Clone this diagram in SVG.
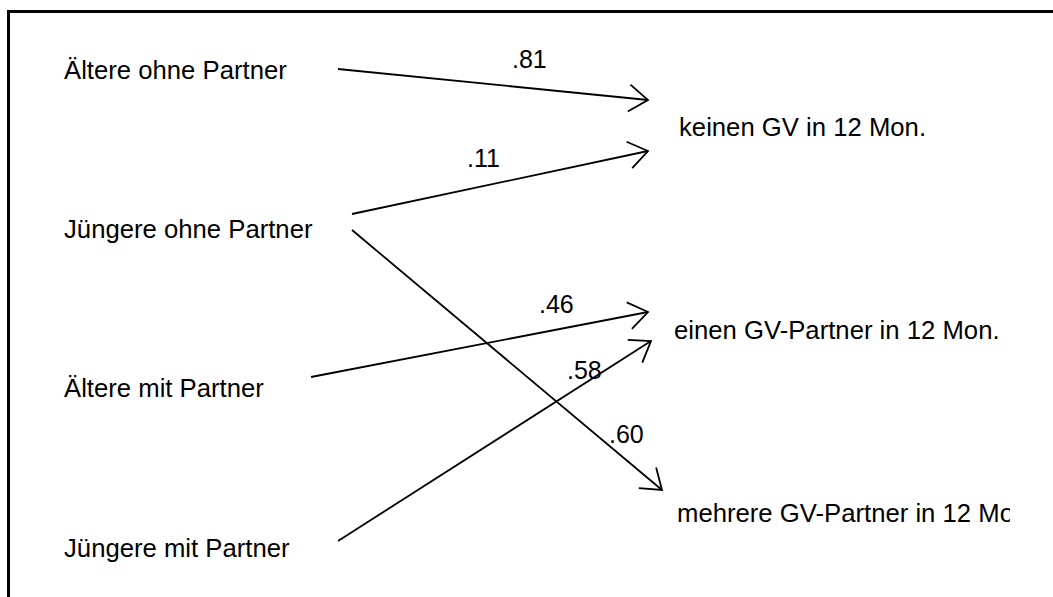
<svg xmlns="http://www.w3.org/2000/svg" width="1053" height="597" viewBox="0 0 1053 597">
<style>
.t{font-family:"Liberation Sans",Arial,sans-serif;font-size:25.7px;fill:#000}
.l{font-family:"Liberation Sans",Arial,sans-serif;font-size:25px;fill:#000}
.c{stroke:#000;stroke-width:1.8;fill:none;marker-end:url(#ah)}
</style>
<defs>
<marker id="ah" markerUnits="userSpaceOnUse" markerWidth="40" markerHeight="40" refX="0" refY="0" viewBox="-30 -20 40 40" orient="auto" overflow="visible">
<path d="M-19,-13.5 L0,0 L-19,13.5" fill="none" stroke="#000" stroke-width="1.8"/>
</marker>
<clipPath id="clipM"><rect x="0" y="0" width="1010" height="597"/></clipPath>
</defs>
<rect width="1053" height="597" fill="#fff"/>
<path d="M8.5,597 V11.5 H1053" fill="none" stroke="#000" stroke-width="3"/>
<g id="n-aeltere-ohne"><text class="t" x="64" y="79">Ältere ohne Partner</text></g>
<g id="n-juengere-ohne"><text class="t" x="64" y="238">Jüngere ohne Partner</text></g>
<g id="n-aeltere-mit"><text class="t" x="64" y="397">Ältere mit Partner</text></g>
<g id="n-juengere-mit"><text class="t" x="64" y="557">Jüngere mit Partner</text></g>
<g id="n-keinen"><text class="t" x="679" y="136">keinen GV in 12 Mon.</text></g>
<g id="n-einen"><text class="t" x="674" y="339">einen GV-Partner in 12 Mon.</text></g>
<g id="n-mehrere" clip-path="url(#clipM)"><text class="t" x="677" y="522">mehrere GV-Partner in 12 Mon.</text></g>
<g id="connectors">
<line class="c" x1="338" y1="69" x2="648" y2="100"/>
<line class="c" x1="352" y1="214" x2="648" y2="151"/>
<line class="c" x1="352" y1="230" x2="662" y2="490"/>
<line class="c" x1="311" y1="377" x2="648" y2="312"/>
<line class="c" x1="338" y1="541" x2="651" y2="341"/>
<text class="l" x="512" y="68">.81</text>
<text class="l" x="467" y="167">.11</text>
<text class="l" x="539" y="313">.46</text>
<text class="l" x="567" y="379">.58</text>
<text class="l" x="609" y="443">.60</text>
</g>
</svg>
